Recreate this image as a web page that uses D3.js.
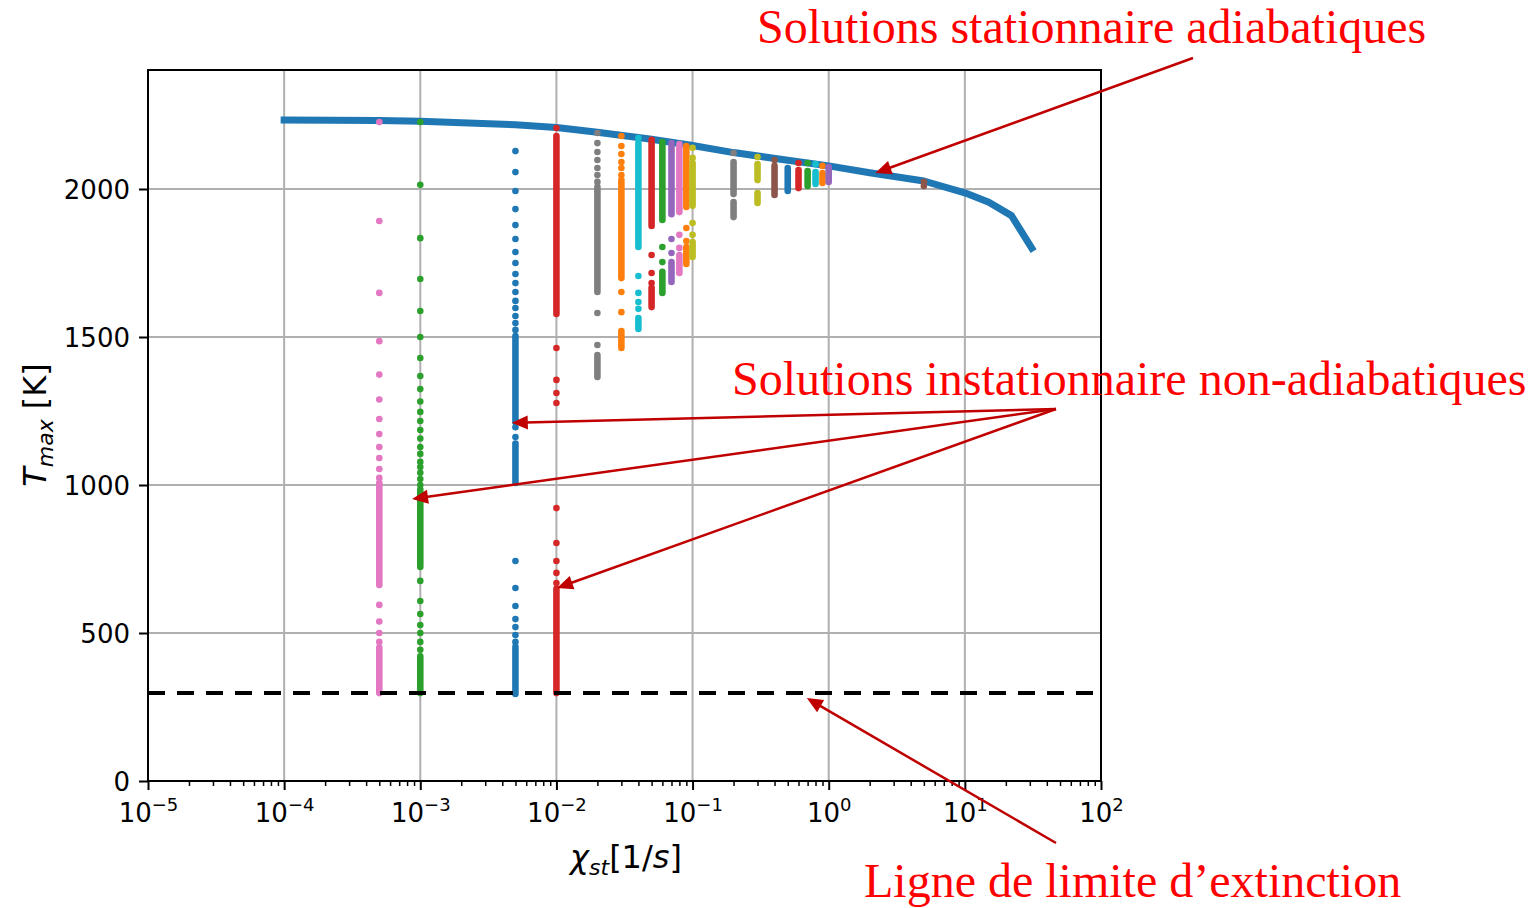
<!DOCTYPE html>
<html>
<head>
<meta charset="utf-8">
<style>
  body { margin: 0; background: #fff; }
  svg { display: block; }
  .tick text { font-family: "DejaVu Sans", sans-serif; font-size: 26px; fill: #000; }
  .axlabel { font-family: "DejaVu Sans", sans-serif; font-size: 32px; fill: #000; }
  .annot { font-family: "Liberation Serif", "Times New Roman", serif; font-size: 48px; fill: #ff0000; }
</style>
</head>
<body>
<svg width="1534" height="908"></svg>
<script src="https://d3js.org/d3.v7.min.js"></script>
<script>

// steady adiabatic solutions (thick blue curve)
var adiaChi = [1e-4, 5e-4, 1e-3, 5e-3, 1e-2, 2e-2, 5e-2, 0.1, 0.2, 0.5, 1, 2, 5, 10, 15, 22, 31];
var adiaT = [2233, 2231, 2229, 2217, 2208, 2192, 2168, 2147, 2123, 2097, 2078, 2055, 2027, 1987, 1955, 1910, 1800];

// unsteady non-adiabatic solutions, one column per chi_st
var colChi = [5e-4, 1e-3, 5e-3, 1e-2, 2e-2, 3e-2, 4e-2, 5e-2, 6e-2, 7e-2, 8e-2, 9e-2,
              0.1, 0.2, 0.3, 0.4, 0.5, 0.6, 0.7, 0.8, 0.9, 1, 5];

// isolated points of each column
var colDots = [
  [2226, 1892, 1649, 1486, 1373, 1289, 1223, 1172, 1128, 1091, 1054, 1024, 595, 539, 500, 470],
  [2226, 2014, 1834, 1696, 1588, 1500, 1429, 1368, 1324, 1282, 1247, 1216, 1186, 1157, 1128, 1105,
   1078, 1061, 1041, 1020, 1000, 676, 608, 564, 527, 500, 470, 443],
  [2128, 2057, 1993, 1932, 1878, 1831, 1787, 1750, 1713, 1682, 1652, 1622, 1598, 1571, 1547, 1524,
   1195, 1162, 743, 652, 591, 547, 520, 493, 470],
  [2206, 1463, 1355, 1311, 1277, 922, 804, 743, 703, 669],
  [2189, 2155, 2125, 2098, 2071, 2047, 2024, 1581, 1473],
  [2179, 2145, 2118, 2091, 2071, 2047, 1652, 1584],
  [2172, 1706, 1649, 1618, 1595],
  [1777, 1716, 1682],
  [1804, 1753],
  [1831, 1784],
  [1845, 1801],
  [1868, 1824],
  [2139, 2105, 1885, 1845],
  [2122],
  [2108],
  [2098],
  [],
  [2088],
  [2088],
  [2084],
  [2078],
  [],
  [2024, 2010]
];

// stretches where the points of a column are packed solid [from, to]
var colRuns = [
  [[1007, 662], [451, 297]],
  [[985, 723], [421, 297]],
  [[1503, 1212], [1140, 1007], [453, 294]],
  [[2179, 1578], [649, 297]],
  [[2007, 1652], [1439, 1365]],
  [[2030, 1699], [1520, 1463]],
  [[2155, 1804], [1564, 1527]],
  [[2166, 1875], [1666, 1601]],
  [[2159, 1895], [1720, 1649]],
  [[2155, 1915], [1753, 1686]],
  [[2152, 1922], [1777, 1716]],
  [[2145, 1939], [1804, 1747]],
  [[2088, 1943], [1821, 1770]],
  [[2091, 1983], [1956, 1905]],
  [[2084, 2030], [1986, 1953]],
  [[2078, 1980]],
  [[2071, 1993]],
  [[2064, 2003]],
  [[2061, 2010]],
  [[2057, 2017]],
  [[2054, 2020]],
  [[2074, 2024]],
  []
];

var extinctionT = 297;

var xMajor = [1e-5, 1e-4, 1e-3, 1e-2, 1e-1, 1, 10, 100];
var xMajorExp = ["\u22125", "\u22124", "\u22123", "\u22122", "\u22121", "0", "1", "2"];
var yTicks = [0, 500, 1000, 1500, 2000];

// annotations: text, text position (page px), arrow start (page px), arrow tips (data)
var annText = ["Solutions stationnaire adiabatiques",
               "Solutions instationnaire non-adiabatiques",
               "Ligne de limite d\u2019extinction"];
var annTextPos = [[757, 43], [732, 395], [864, 897]];
var annFrom = [[1193, 58], [1056, 409], [1056, 843]];
var annTips = [[[2.2, 2054]],
               [[4.7e-3, 1210], [8.7e-4, 953], [1.01e-2, 652]],
               [[0.69, 280]]];

var colColors = ["#e377c2", "#2ca02c", "#1f77b4", "#d62728", "#7f7f7f", "#ff7f0e", "#17becf",
                 "#d62728", "#2ca02c", "#9467bd", "#e377c2", "#ff7f0e", "#bcbd22", "#7f7f7f",
                 "#bcbd22", "#8c564b", "#1f77b4", "#d62728", "#2ca02c", "#17becf", "#ff7f0e",
                 "#9467bd", "#8c564b"];

var svg = d3.select("svg"),
    pL = 148, pR = 1101, pT = 70, pB = 781,
    dotR = 3.3;

var x = d3.scaleLog().domain([1e-5, 1e2]).range([pL, pR]);
var y = d3.scaleLinear().domain([0, 2402]).range([pB, pT]);

var xMinor = [];
for (var e = -5; e < 2; e++) {
  for (var k = 2; k <= 9; k++) xMinor.push(k * Math.pow(10, e));
}

svg.append("rect").attr("width", 1534).attr("height", 908).attr("fill", "#fff");

// grid
var grid = svg.append("g").attr("stroke", "#b0b0b0").attr("stroke-width", 2);
grid.selectAll(".gx").data(xMajor).enter().append("line")
    .attr("x1", function(d) { return x(d); }).attr("x2", function(d) { return x(d); })
    .attr("y1", pT).attr("y2", pB);
grid.selectAll(".gy").data(yTicks).enter().append("line")
    .attr("x1", pL).attr("x2", pR)
    .attr("y1", function(d) { return y(d); }).attr("y2", function(d) { return y(d); });

// adiabatic curve
var line = d3.line()
    .x(function(d, i) { return x(adiaChi[i]); })
    .y(function(d) { return y(d); });

svg.append("path").datum(adiaT)
    .attr("d", line)
    .attr("fill", "none")
    .attr("stroke", "#1f77b4")
    .attr("stroke-width", 7)
    .attr("stroke-linejoin", "round")
    .attr("stroke-linecap", "square");

// unsteady columns
colChi.forEach(function(c, i) {
  var g = svg.append("g");
  g.selectAll("line").data(colRuns[i]).enter().append("line")
      .attr("x1", x(c)).attr("x2", x(c))
      .attr("y1", function(d) { return y(d[0]); })
      .attr("y2", function(d) { return y(d[1]); })
      .attr("stroke", colColors[i])
      .attr("stroke-width", dotR * 2)
      .attr("stroke-linecap", "round");
  g.selectAll("circle").data(colDots[i]).enter().append("circle")
      .attr("cx", x(c))
      .attr("cy", function(d) { return y(d); })
      .attr("r", dotR)
      .attr("fill", colColors[i]);
});

// extinction limit
svg.append("line")
    .attr("x1", x(1e-5)).attr("x2", x(1e2))
    .attr("y1", y(extinctionT)).attr("y2", y(extinctionT))
    .attr("stroke", "#000")
    .attr("stroke-width", 4)
    .attr("stroke-dasharray", "17,12");

// axes
var xAxis = svg.append("g").attr("transform", "translate(0," + pB + ")")
    .call(d3.axisBottom(x).tickValues(xMajor).tickSize(9).tickFormat(""));
xAxis.select(".domain").remove();
xAxis.selectAll(".tick line").attr("stroke-width", 2);
xAxis.selectAll(".tick text")
    .attr("y", 41).attr("dy", null)
    .each(function(d, i) {
      var t = d3.select(this);
      t.append("tspan").text("10");
      t.append("tspan").attr("dy", -11).attr("font-size", 18).text(xMajorExp[i]);
    });

var xMinorAxis = svg.append("g").attr("transform", "translate(0," + pB + ")")
    .call(d3.axisBottom(x).tickValues(xMinor).tickSize(5).tickFormat(""));
xMinorAxis.select(".domain").remove();
xMinorAxis.selectAll("line").attr("stroke-width", 1.5);

var yAxis = svg.append("g").attr("transform", "translate(" + pL + ",0)")
    .call(d3.axisLeft(y).tickValues(yTicks).tickSize(9).tickPadding(9).tickFormat(d3.format("d")));
yAxis.select(".domain").remove();
yAxis.selectAll(".tick line").attr("stroke-width", 2);
yAxis.selectAll(".tick text").attr("dy", "0.36em");

svg.append("rect")
    .attr("x", pL).attr("y", pT)
    .attr("width", pR - pL).attr("height", pB - pT)
    .attr("fill", "none").attr("stroke", "#000").attr("stroke-width", 2);

// axis labels
var xl = svg.append("text").attr("class", "axlabel")
    .attr("x", 626).attr("y", 868).attr("text-anchor", "middle");
xl.append("tspan").attr("font-style", "italic").text("\u03c7");
xl.append("tspan").attr("font-style", "italic").attr("font-size", 22).attr("dy", 7).text("st");
xl.append("tspan").attr("dy", -7).text("[1/");
xl.append("tspan").attr("font-style", "italic").text("s");
xl.append("tspan").text("]");

var yl = svg.append("text").attr("class", "axlabel")
    .attr("transform", "translate(46,425) rotate(-90)")
    .attr("text-anchor", "middle");
yl.append("tspan").attr("font-style", "italic").text("T");
yl.append("tspan").attr("font-style", "italic").attr("font-size", 22).attr("dy", 7).text("max");
yl.append("tspan").attr("dy", -7).text(" [K]");

// annotations
var arrowColor = "#c00000";
annText.forEach(function(txt, i) {
  svg.append("text").attr("class", "annot")
      .attr("x", annTextPos[i][0]).attr("y", annTextPos[i][1])
      .text(txt);
  annTips[i].forEach(function(tip) {
    var x0 = annFrom[i][0], y0 = annFrom[i][1],
        tx = x(tip[0]), ty = y(tip[1]),
        dx = tx - x0, dy = ty - y0,
        len = Math.sqrt(dx * dx + dy * dy),
        ux = dx / len, uy = dy / len,
        hl = 16, hw = 7,
        bx = tx - ux * hl, by = ty - uy * hl;
    svg.append("line")
        .attr("x1", x0).attr("y1", y0).attr("x2", bx + ux * 2).attr("y2", by + uy * 2)
        .attr("stroke", arrowColor).attr("stroke-width", 2.5);
    svg.append("path")
        .attr("d", "M" + tx + "," + ty +
                   "L" + (bx - uy * hw) + "," + (by + ux * hw) +
                   "L" + (bx + uy * hw) + "," + (by - ux * hw) + "Z")
        .attr("fill", arrowColor);
  });
});

</script>
</body>
</html>
